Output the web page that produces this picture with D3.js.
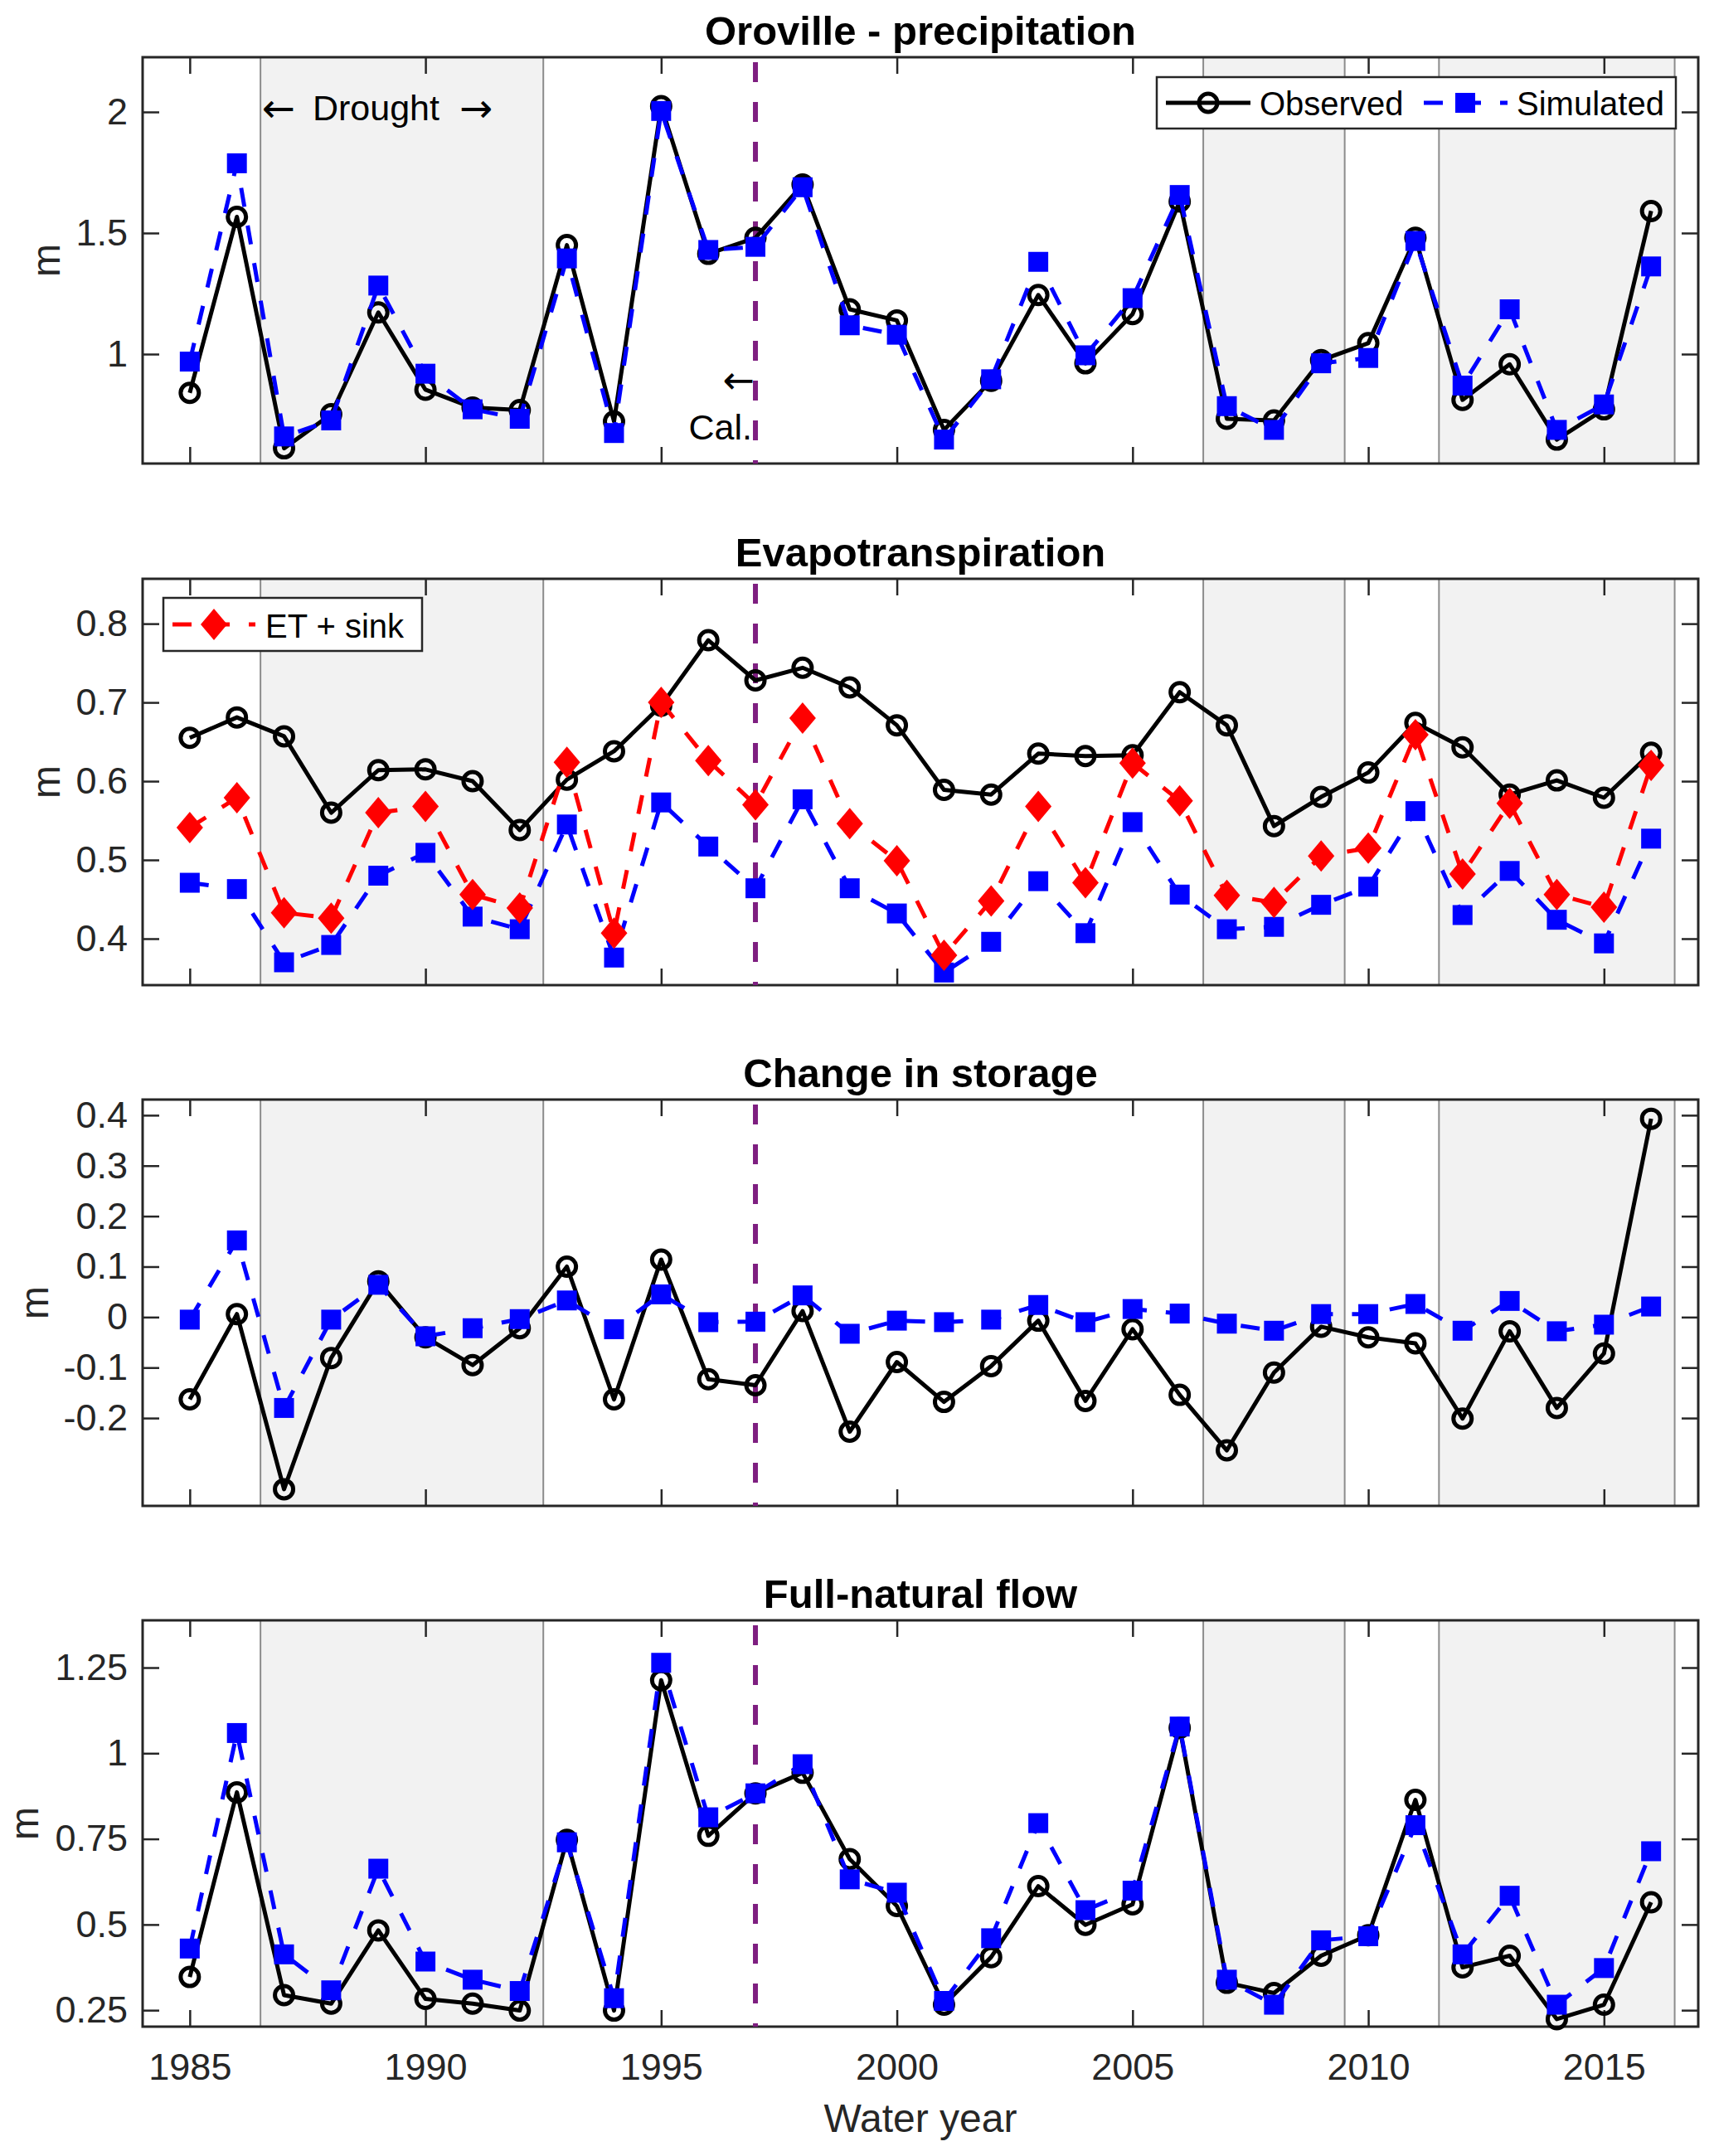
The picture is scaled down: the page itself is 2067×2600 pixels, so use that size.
<!DOCTYPE html>
<html>
<head>
<meta charset="utf-8">
<script src="https://cdn.jsdelivr.net/npm/d3@7"></script>
<style>
  body { margin: 0; background: #fff; }
  text { font-family: "Liberation Sans", Arial, Helvetica, sans-serif; }
</style>
</head>
<body>
<div id="chart"></div>
<script>
// Data
const years = d3.range(1985, 2017);

const precipObs = [0.84, 1.567, 0.611, 0.752, 1.172, 0.853, 0.779, 0.769, 1.45, 0.722, 2.024, 1.414, 1.48, 1.70, 1.185,
  1.139, 0.687, 0.89, 1.244, 0.962, 1.165, 1.63, 0.733, 0.726, 0.975, 1.045, 1.48, 0.811, 0.958, 0.647, 0.772, 1.591];
const precipSim = [0.969, 1.788, 0.66, 0.726, 1.283, 0.919, 0.772, 0.733, 1.395, 0.674, 2.004, 1.43, 1.443, 1.689, 1.119,
  1.08, 0.647, 0.896, 1.381, 0.995, 1.231, 1.657, 0.785, 0.687, 0.962, 0.984, 1.467, 0.87, 1.185, 0.687, 0.792, 1.362];

const etObs = [0.655, 0.681, 0.657, 0.560, 0.614, 0.615, 0.600, 0.538, 0.602, 0.638, 0.696, 0.779, 0.728, 0.744, 0.719,
  0.671, 0.589, 0.583, 0.635, 0.632, 0.633, 0.713, 0.671, 0.543, 0.580, 0.611, 0.674, 0.643, 0.583, 0.601, 0.579, 0.636];
const etSim = [0.471, 0.463, 0.370, 0.392, 0.480, 0.509, 0.428, 0.412, 0.545, 0.376, 0.573, 0.517, 0.464, 0.577, 0.464,
  0.432, 0.357, 0.396, 0.473, 0.407, 0.548, 0.456, 0.412, 0.415, 0.443, 0.466, 0.562, 0.430, 0.486, 0.424, 0.394, 0.527];
const etSink = [0.541, 0.579, 0.433, 0.426, 0.560, 0.568, 0.456, 0.439, 0.624, 0.407, 0.700, 0.626, 0.570, 0.680, 0.546,
  0.499, 0.379, 0.448, 0.568, 0.471, 0.623, 0.575, 0.455, 0.446, 0.505, 0.515, 0.659, 0.482, 0.572, 0.456, 0.440, 0.620];

const storageObs = [-0.163, 0.006, -0.341, -0.081, 0.071, -0.040, -0.095, -0.022, 0.100, -0.163, 0.114, -0.123, -0.135, 0.012, -0.227,
  -0.089, -0.168, -0.097, -0.007, -0.166, -0.024, -0.154, -0.264, -0.110, -0.019, -0.040, -0.052, -0.201, -0.028, -0.180, -0.072, 0.393];
const storageSim = [-0.005, 0.152, -0.180, -0.005, 0.064, -0.038, -0.022, -0.004, 0.033, -0.024, 0.045, -0.010, -0.009, 0.043, -0.033,
  -0.007, -0.010, -0.005, 0.024, -0.010, 0.016, 0.007, -0.013, -0.027, 0.006, 0.006, 0.026, -0.027, 0.032, -0.028, -0.015, 0.021];

const flowObs = [0.347, 0.886, 0.294, 0.269, 0.483, 0.283, 0.269, 0.249, 0.747, 0.249, 1.213, 0.759, 0.883, 0.943, 0.691,
  0.554, 0.266, 0.405, 0.612, 0.499, 0.559, 1.074, 0.330, 0.300, 0.409, 0.469, 0.864, 0.375, 0.409, 0.224, 0.266, 0.565];
const flowSim = [0.430, 1.059, 0.413, 0.308, 0.663, 0.392, 0.339, 0.306, 0.740, 0.285, 1.264, 0.813, 0.883, 0.968, 0.632,
  0.593, 0.277, 0.460, 0.796, 0.542, 0.599, 1.078, 0.339, 0.266, 0.454, 0.466, 0.790, 0.413, 0.584, 0.266, 0.373, 0.714];

const droughts = [[1986.5, 1992.5], [2006.5, 2009.5], [2011.5, 2016.5]];
const calYear = 1997;
const xTicks = [1985, 1990, 1995, 2000, 2005, 2010, 2015];

const titles = ["Oroville - precipitation", "Evapotranspiration", "Change in storage", "Full-natural flow"];
const yDomains = [[0.548, 2.226], [0.341, 0.857], [-0.374, 0.431], [0.202, 1.388]];
const yTicks = [
  [1, 1.5, 2],
  [0.4, 0.5, 0.6, 0.7, 0.8],
  [-0.2, -0.1, 0, 0.1, 0.2, 0.3, 0.4],
  [0.25, 0.5, 0.75, 1, 1.25],
];
const obsSeries = [precipObs, etObs, storageObs, flowObs];
const simSeries = [precipSim, etSim, storageSim, flowSim];

// Dimensions
const dimensions = {
  width: 2067,
  height: 2600,
  left: 172,
  right: 2048,
  panelTops: [69, 698, 1326, 1954],
  panelHeight: 490,
  yLabelX: [72, 72, 58, 46],
};

const axisColor = "#262626";
const purple = "#7E1E80";
const arrowFont = "'DejaVu Sans', sans-serif";

const svg = d3
  .select("#chart")
  .append("svg")
  .attr("width", dimensions.width)
  .attr("height", dimensions.height);

const xScale = d3
  .scaleLinear()
  .domain([1984, 2017])
  .range([dimensions.left, dimensions.right]);

const lineOf = (yScale) =>
  d3
    .line()
    .x((d) => xScale(d[0]))
    .y((d) => yScale(d[1]));

function drawSeries(g, yScale, values, opts) {
  const pts = years.map((y, i) => [y, values[i]]);
  g.append("path")
    .datum(pts)
    .attr("d", lineOf(yScale))
    .attr("fill", "none")
    .attr("stroke", opts.color)
    .attr("stroke-width", 5)
    .attr("stroke-linejoin", "round")
    .attr("stroke-dasharray", opts.dash || null);

  const m = g.append("g").selectAll("path").data(pts).join("path")
    .attr("transform", (d) => `translate(${xScale(d[0])},${yScale(d[1])})`);
  if (opts.marker === "circle") {
    m.attr("d", d3.symbol(d3.symbolCircle, Math.PI * 11 * 11))
      .attr("fill", "none").attr("stroke", opts.color).attr("stroke-width", 5);
  } else if (opts.marker === "square") {
    m.attr("d", "M-12,-12H12V12H-12Z").attr("fill", opts.color);
  } else {
    m.attr("d", "M0,-19L16,0L0,19L-16,0Z").attr("fill", opts.color);
  }
}

titles.forEach((title, p) => {
  const top = dimensions.panelTops[p];
  const bottom = top + dimensions.panelHeight;
  const yScale = d3.scaleLinear().domain(yDomains[p]).range([bottom, top]);
  const g = svg.append("g");

  // drought shading
  droughts.forEach(([a, b]) => {
    g.append("rect")
      .attr("x", xScale(a))
      .attr("y", top)
      .attr("width", xScale(b) - xScale(a))
      .attr("height", dimensions.panelHeight)
      .attr("fill", "#f2f2f2");
    [a, b].forEach((v) => {
      g.append("line")
        .attr("x1", xScale(v)).attr("x2", xScale(v))
        .attr("y1", top).attr("y2", bottom)
        .attr("stroke", "#8c8c8c").attr("stroke-width", 2);
    });
  });

  // axes
  const fmt = (d) => String(d);
  const xb = g.append("g").attr("transform", `translate(0,${bottom})`)
    .call(d3.axisBottom(xScale).tickValues(xTicks).tickSize(-20).tickSizeOuter(0)
      .tickPadding(32).tickFormat(p === 3 ? fmt : () => ""));
  const xt = g.append("g").attr("transform", `translate(0,${top})`)
    .call(d3.axisTop(xScale).tickValues(xTicks).tickSize(-20).tickSizeOuter(0).tickFormat(() => ""));
  const yl = g.append("g").attr("transform", `translate(${dimensions.left},0)`)
    .call(d3.axisLeft(yScale).tickValues(yTicks[p]).tickSize(-20).tickSizeOuter(0)
      .tickPadding(18).tickFormat(fmt));
  const yr = g.append("g").attr("transform", `translate(${dimensions.right},0)`)
    .call(d3.axisRight(yScale).tickValues(yTicks[p]).tickSize(-20).tickSizeOuter(0).tickFormat(() => ""));
  [xb, xt, yl, yr].forEach((a) => {
    a.select(".domain").remove();
    a.selectAll(".tick line").attr("stroke", axisColor).attr("stroke-width", 2.5);
    a.selectAll(".tick text").attr("fill", axisColor).style("font-size", "45px")
      .style("font-family", "'Liberation Sans', Arial, sans-serif");
  });

  g.append("rect")
    .attr("x", dimensions.left).attr("y", top)
    .attr("width", dimensions.right - dimensions.left)
    .attr("height", dimensions.panelHeight)
    .attr("fill", "none").attr("stroke", axisColor).attr("stroke-width", 3);

  // calibration line
  g.append("line")
    .attr("x1", xScale(calYear)).attr("x2", xScale(calYear))
    .attr("y1", top).attr("y2", bottom)
    .attr("stroke", purple).attr("stroke-width", 6)
    .attr("stroke-dasharray", "24,24").attr("stroke-dashoffset", -6);

  // series
  drawSeries(g, yScale, obsSeries[p], { color: "#000", marker: "circle" });
  drawSeries(g, yScale, simSeries[p], { color: "#0000ff", marker: "square", dash: "23,23" });
  if (p === 1) drawSeries(g, yScale, etSink, { color: "#ff0000", marker: "diamond", dash: "23,23" });

  // title and y label
  g.append("text")
    .attr("x", (dimensions.left + dimensions.right) / 2)
    .attr("y", top - 15)
    .attr("text-anchor", "middle")
    .attr("font-weight", "bold")
    .attr("font-size", 49)
    .attr("fill", "#000")
    .text(title);

  g.append("text")
    .attr("transform", `translate(${dimensions.yLabelX[p]},${(top + bottom) / 2}) rotate(-90)`)
    .attr("text-anchor", "middle")
    .attr("font-size", 48)
    .attr("fill", axisColor)
    .text("m");

  if (p === 0) {
    g.append("text").attr("x", 316).attr("y", 147).attr("font-size", 48)
      .style("font-family", arrowFont).text("\u2190");
    g.append("text").attr("x", 377).attr("y", 145).attr("font-size", 43).text("Drought");
    g.append("text").attr("x", 554).attr("y", 147).attr("font-size", 48)
      .style("font-family", arrowFont).text("\u2192");
    g.append("text")
      .attr("x", 910).attr("y", 474)
      .attr("text-anchor", "end")
      .attr("font-size", 46)
      .style("font-family", arrowFont)
      .text("\u2190");
    g.append("text")
      .attr("x", 907).attr("y", 530)
      .attr("text-anchor", "end")
      .attr("font-size", 43)
      .text("Cal.");

    // legend
    const lg = g.append("g");
    lg.append("rect").attr("x", 1395).attr("y", 93).attr("width", 626).attr("height", 62)
      .attr("fill", "#fff").attr("stroke", axisColor).attr("stroke-width", 2.5);
    lg.append("line").attr("x1", 1406).attr("x2", 1508).attr("y1", 124).attr("y2", 124)
      .attr("stroke", "#000").attr("stroke-width", 5);
    lg.append("circle").attr("cx", 1457).attr("cy", 124).attr("r", 11)
      .attr("fill", "none").attr("stroke", "#000").attr("stroke-width", 5);
    lg.append("text").attr("x", 1519).attr("y", 139).attr("font-size", 40).text("Observed");
    lg.append("line").attr("x1", 1717).attr("x2", 1818).attr("y1", 124).attr("y2", 124)
      .attr("stroke", "#0000ff").attr("stroke-width", 5).attr("stroke-dasharray", "23,23");
    lg.append("rect").attr("x", 1755).attr("y", 112).attr("width", 24).attr("height", 24).attr("fill", "#0000ff");
    lg.append("text").attr("x", 1829).attr("y", 139).attr("font-size", 40).text("Simulated");
  }

  if (p === 1) {
    const lg = g.append("g");
    lg.append("rect").attr("x", 197).attr("y", 721).attr("width", 312).attr("height", 64)
      .attr("fill", "#fff").attr("stroke", axisColor).attr("stroke-width", 2.5);
    lg.append("line").attr("x1", 208).attr("x2", 308).attr("y1", 753).attr("y2", 753)
      .attr("stroke", "#ff0000").attr("stroke-width", 5).attr("stroke-dasharray", "23,23");
    lg.append("path").attr("d", "M258,734L274,753L258,772L242,753Z").attr("fill", "#ff0000");
    lg.append("text").attr("x", 320).attr("y", 769).attr("font-size", 40).text("ET + sink");
  }
});

// x label
svg.append("text")
  .attr("x", (dimensions.left + dimensions.right) / 2)
  .attr("y", 2571)
  .attr("text-anchor", "middle")
  .attr("font-size", 48)
  .attr("fill", axisColor)
  .text("Water year");
</script>
</body>
</html>
